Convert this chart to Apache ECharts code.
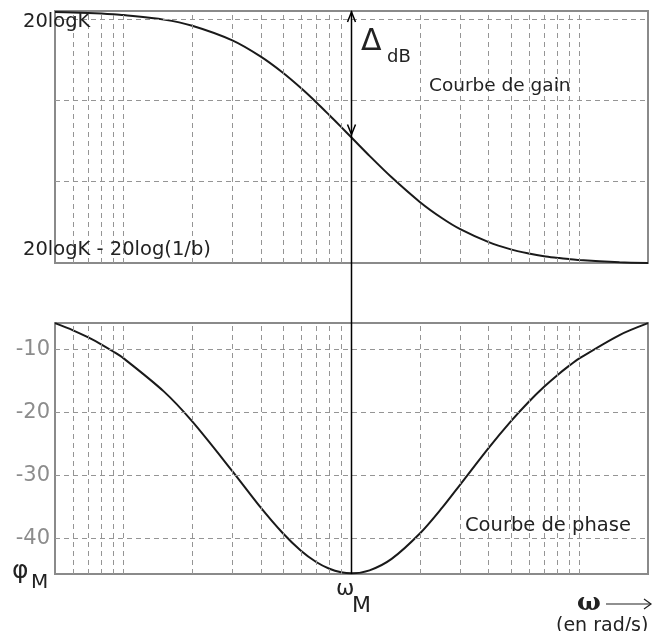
<!DOCTYPE html>
<html><head><meta charset="utf-8">
<script src="https://cdn.jsdelivr.net/npm/echarts@6/dist/echarts.min.js"></script>
<style>html,body{margin:0;padding:0;background:#fff}#c{width:656px;height:631px}</style>
</head><body><div id="c"></div>
<script>
// frequencies relative to omega_M (omega_M = 1)
const omega = [0.05,0.06,0.07,0.08,0.09,0.1,0.15,0.2,0.3,0.4,0.5,0.6,0.7,0.8,0.9,1,1.2,1.5,2,2.5,3,4,5,6,7,8,9,10,15,20];
// gain curve (dB, 20logK at top ~20.5, 20logK - 20log(1/b) at ~5)
const gainDb = [20.44,20.41,20.38,20.34,20.30,20.25,19.97,19.59,18.69,17.69,16.70,15.76,14.89,14.09,13.37,12.72,11.59,10.27,8.74,7.75,7.08,6.28,5.84,5.59,5.42,5.32,5.24,5.18,5.05,5.00];
// phase curve (degrees)
const phaseDeg = [-5.82,-6.96,-8.10,-9.22,-10.33,-11.42,-16.67,-21.44,-29.34,-35.16,-39.23,-42.00,-43.79,-44.86,-45.41,-45.58,-45.12,-43.30,-39.23,-35.16,-31.48,-25.65,-21.44,-18.32,-15.95,-14.10,-12.62,-11.42,-7.71,-5.82];
// vertical grid lines (log decades minor lines)
const freqGrid = [0.06,0.07,0.08,0.09,0.1,0.2,0.3,0.4,0.5,0.6,0.7,0.8,0.9,1,2,3,4,5,6,7,8,9,10];
const gainGrid = [10,15,20];
const phaseTicks = [-10,-20,-30,-40];
const omegaM = 1;
const gainMin = 5, gainMax = 20.5;
const phaseMin = -45.7, phaseMax = -5.8;

const chart = echarts.init(document.getElementById('c'));
const font = 'DejaVu Sans';
const gridLineStyle = {color:'#959595', type:[5,4], width:1};
function ml(data){
  return {silent:true, symbol:['none','none'], label:{show:false}, animation:false,
    lineStyle:gridLineStyle, emphasis:{disabled:true}, data:data};
}
const xAx = (i)=>({type:'log', logBase:10, gridIndex:i, min:0.05, max:20,
  axisLine:{show:false}, axisTick:{show:false}, axisLabel:{show:false},
  splitLine:{show:false}, minorTick:{show:false}, minorSplitLine:{show:false}});
const option = {
  animation:false,
  backgroundColor:'#fff',
  grid:[
    {left:55, top:11, width:593, height:252, show:true, borderColor:'#8a8a8a', borderWidth:2},
    {left:55, top:323, width:593, height:251, show:true, borderColor:'#8a8a8a', borderWidth:2}
  ],
  xAxis:[xAx(0), xAx(1)],
  yAxis:[
    {type:'value', gridIndex:0, min:gainMin, max:gainMax, axisLine:{show:false}, axisTick:{show:false},
     axisLabel:{show:false}, splitLine:{show:false}},
    {type:'value', gridIndex:1, min:phaseMin, max:phaseMax, axisLine:{show:false}, axisTick:{show:false},
     splitLine:{show:false},
     axisLabel:{show:true, customValues:phaseTicks, color:'#8c8c8c', fontSize:21, fontFamily:font, margin:5}}
  ],
  series:[
    {type:'line', xAxisIndex:0, yAxisIndex:0, data:omega.map((w,i)=>[w,gainDb[i]]),
     smooth:0.3, showSymbol:false, lineStyle:{color:'#1a1a1a', width:2}, z:3,
     markLine:ml(freqGrid.map(v=>({xAxis:v})).concat(gainGrid.map(v=>({yAxis:v}))))},
    {type:'line', xAxisIndex:1, yAxisIndex:1, data:omega.map((w,i)=>[w,phaseDeg[i]]),
     smooth:0.3, showSymbol:false, lineStyle:{color:'#1a1a1a', width:2}, z:3,
     markLine:ml(freqGrid.map(v=>({xAxis:v})).concat(phaseTicks.map(v=>({yAxis:v}))))}
  ]
};
chart.setOption(option);

const pTop = chart.convertToPixel({xAxisIndex:0, yAxisIndex:0}, [omegaM, gainMax]);
const pMid = chart.convertToPixel({xAxisIndex:0, yAxisIndex:0}, [omegaM, gainDb[omega.indexOf(omegaM)]]);
const pBot = chart.convertToPixel({xAxisIndex:1, yAxisIndex:1}, [omegaM, phaseMin]);
const x = pTop[0];
const txt = (t, x, y, size, opts)=>Object.assign({type:'text', x:x, y:y, z:10,
  style:Object.assign({text:t, fontSize:size, fontFamily:font, fill:'#222', verticalAlign:'middle', align:'left'}, opts||{})});
const graphic = [
  {type:'line', z:9, shape:{x1:x, y1:pTop[1], x2:x, y2:pBot[1]}, style:{stroke:'#000', lineWidth:1.5}},
  {type:'polyline', z:9, shape:{points:[[x-4,pTop[1]+11],[x,pTop[1]+1],[x+4,pTop[1]+11]]}, style:{stroke:'#000', lineWidth:1.5, fill:null}},
  {type:'polyline', z:9, shape:{points:[[x-4,pMid[1]-13],[x,pMid[1]-3],[x+4,pMid[1]-13]]}, style:{stroke:'#000', lineWidth:1.5, fill:null}},
  txt('Δ', 361, 42, 30),
  txt('dB', 387, 57, 18),
  txt('20logK', 23, 22, 19.5),
  txt('20logK - 20log(1/b)', 23, 250, 19.5),
  txt('Courbe de gain', 429, 86, 18.5),
  txt('Courbe de phase', 465, 526, 19.5),
  txt('φ', 12, 571, 25),
  txt('M', 31, 583, 20),
  txt('ω', 336, 589, 22),
  txt('M', 352, 606, 22),
  txt('ω', 577, 603, 25, {fontWeight:'bold', fontFamily:'DejaVu Serif'}),
  {type:'line', z:9, shape:{x1:606, y1:604, x2:651, y2:604}, style:{stroke:'#222', lineWidth:1.2}},
  {type:'polyline', z:9, shape:{points:[[644,599],[651,604],[644,609]]}, style:{stroke:'#222', lineWidth:1.2, fill:null}},
  txt('(en rad/s)', 556, 626, 19)
];
chart.setOption({graphic:graphic});
</script></body></html>
